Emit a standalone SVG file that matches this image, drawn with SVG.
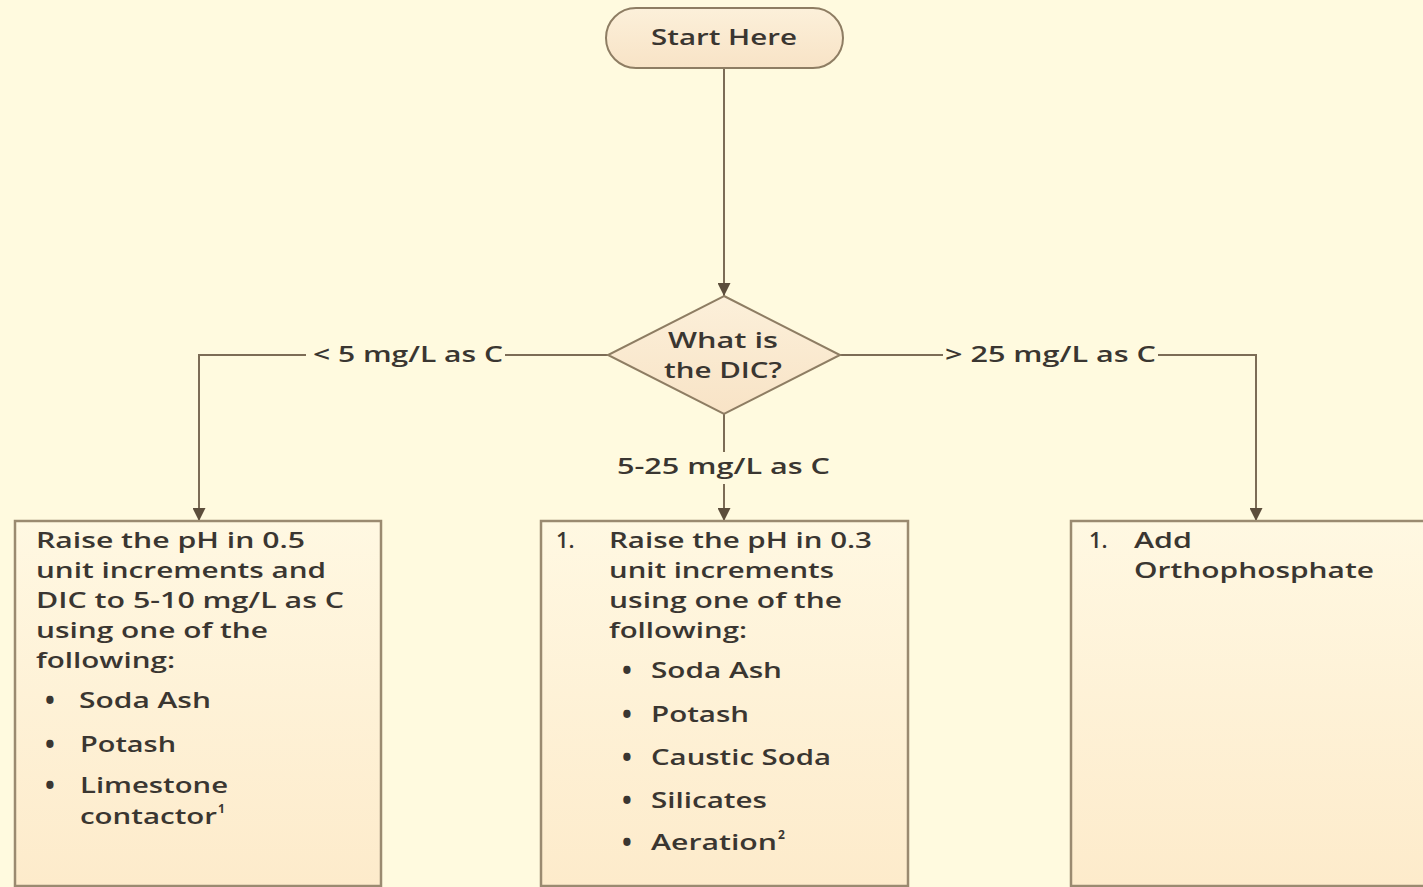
<svg xmlns="http://www.w3.org/2000/svg" width="1423" height="887" viewBox="0 0 1423 887">
  <defs>
    <linearGradient id="boxFill" x1="0" y1="0" x2="0" y2="1">
      <stop offset="0" stop-color="#FFF8E2"/>
      <stop offset="1" stop-color="#FDEBCB"/>
    </linearGradient>
    <linearGradient id="shapeFill" x1="0" y1="0" x2="0" y2="1">
      <stop offset="0" stop-color="#FCF0DA"/>
      <stop offset="1" stop-color="#F8E3C6"/>
    </linearGradient>
    <marker id="arrow" viewBox="0 0 10 10" refX="10" refY="5" markerWidth="13" markerHeight="13" markerUnits="userSpaceOnUse" orient="auto">
      <path d="M0,0 L10,5 L0,10 Z" fill="#5C4E3C"/>
    </marker>
    <style>
      .bg { fill: #FFFADF; }
      .node { fill: url(#shapeFill); stroke: #8E7D63; stroke-width: 2; }
      .box { fill: url(#boxFill); stroke: #9A8A70; stroke-width: 2.5; }
      .link { fill: none; stroke: #7C6C56; stroke-width: 2; }
      text { font-family: "Open Sans", "Liberation Sans", sans-serif; fill: #3A3631; font-size: 22px; font-weight: 600; }
      .bul { font-size: 26px; font-weight: 700; }
      .sup { font-size: 12px; font-weight: 700; }
    </style>
  </defs>

  <rect class="bg" x="0" y="0" width="1423" height="887"/>

  <!-- connectors -->
  <g id="connectors">
    <line class="link" x1="724" y1="68" x2="724" y2="296" marker-end="url(#arrow)"/>
    <polyline class="link" points="608,355 505,355"/>
    <polyline class="link" points="306,355 199,355 199,521" marker-end="url(#arrow)"/>
    <polyline class="link" points="840,355 943,355"/>
    <polyline class="link" points="1158,355 1256,355 1256,521" marker-end="url(#arrow)"/>
    <line class="link" x1="724" y1="414" x2="724" y2="452"/>
    <line class="link" x1="724" y1="484" x2="724" y2="521" marker-end="url(#arrow)"/>
    <text x="313" y="362" textLength="190" lengthAdjust="spacingAndGlyphs">&lt; 5 mg/L as C</text>
    <text x="945" y="362" textLength="211" lengthAdjust="spacingAndGlyphs">&gt; 25 mg/L as C</text>
    <text x="617" y="474" textLength="213" lengthAdjust="spacingAndGlyphs">5-25 mg/L as C</text>
  </g>

  <!-- start terminator -->
  <g id="start">
    <rect class="node" x="606" y="8" width="237" height="60" rx="30" ry="30"/>
    <text x="651" y="45" textLength="146" lengthAdjust="spacingAndGlyphs">Start Here</text>
  </g>

  <!-- decision -->
  <g id="decision">
    <polygon class="node" points="724,296 840,355 724,414 608,355"/>
    <text x="668" y="348" textLength="110" lengthAdjust="spacingAndGlyphs">What is</text>
    <text x="664" y="378" textLength="118" lengthAdjust="spacingAndGlyphs">the DIC?</text>
  </g>

  <!-- low DIC action -->
  <g id="low-dic">
    <rect class="box" x="15" y="521" width="366" height="365"/>
    <text x="36" y="548" textLength="269" lengthAdjust="spacingAndGlyphs">Raise the pH in 0.5</text>
    <text x="36" y="578" textLength="290" lengthAdjust="spacingAndGlyphs">unit increments and</text>
    <text x="36" y="608" textLength="308" lengthAdjust="spacingAndGlyphs">DIC to 5-10 mg/L as C</text>
    <text x="36" y="638" textLength="232" lengthAdjust="spacingAndGlyphs">using one of the</text>
    <text x="36" y="668" textLength="139" lengthAdjust="spacingAndGlyphs">following:</text>
    <text class="bul" x="45" y="710">•</text><text x="79" y="708" textLength="132" lengthAdjust="spacingAndGlyphs">Soda Ash</text>
    <text class="bul" x="45" y="754">•</text><text x="80" y="752" textLength="96" lengthAdjust="spacingAndGlyphs">Potash</text>
    <text class="bul" x="45" y="795">•</text><text x="80" y="793" textLength="148" lengthAdjust="spacingAndGlyphs">Limestone</text>
    <text x="80" y="824"><tspan textLength="137" lengthAdjust="spacingAndGlyphs">contactor</tspan><tspan class="sup" dx="1" dy="-11">1</tspan></text>
  </g>

  <!-- mid DIC action -->
  <g id="mid-dic">
    <rect class="box" x="541" y="521" width="367" height="365"/>
    <text x="556" y="548">1.</text>
    <text x="609" y="548" textLength="263" lengthAdjust="spacingAndGlyphs">Raise the pH in 0.3</text>
    <text x="609" y="578" textLength="225" lengthAdjust="spacingAndGlyphs">unit increments</text>
    <text x="609" y="608" textLength="233" lengthAdjust="spacingAndGlyphs">using one of the</text>
    <text x="609" y="638" textLength="138" lengthAdjust="spacingAndGlyphs">following:</text>
    <text class="bul" x="622" y="680">•</text><text x="651" y="678" textLength="131" lengthAdjust="spacingAndGlyphs">Soda Ash</text>
    <text class="bul" x="622" y="724">•</text><text x="651" y="722" textLength="98" lengthAdjust="spacingAndGlyphs">Potash</text>
    <text class="bul" x="622" y="767">•</text><text x="651" y="765" textLength="180" lengthAdjust="spacingAndGlyphs">Caustic Soda</text>
    <text class="bul" x="622" y="810">•</text><text x="651" y="808" textLength="116" lengthAdjust="spacingAndGlyphs">Silicates</text>
    <text class="bul" x="622" y="852">•</text><text x="651" y="850"><tspan textLength="126" lengthAdjust="spacingAndGlyphs">Aeration</tspan><tspan class="sup" dx="1" dy="-11">2</tspan></text>
  </g>

  <!-- high DIC action -->
  <g id="high-dic">
    <rect class="box" x="1071" y="521" width="366" height="365"/>
    <text x="1089" y="548">1.</text>
    <text x="1134" y="548" textLength="58" lengthAdjust="spacingAndGlyphs">Add</text>
    <text x="1134" y="578" textLength="240" lengthAdjust="spacingAndGlyphs">Orthophosphate</text>
  </g>
</svg>
